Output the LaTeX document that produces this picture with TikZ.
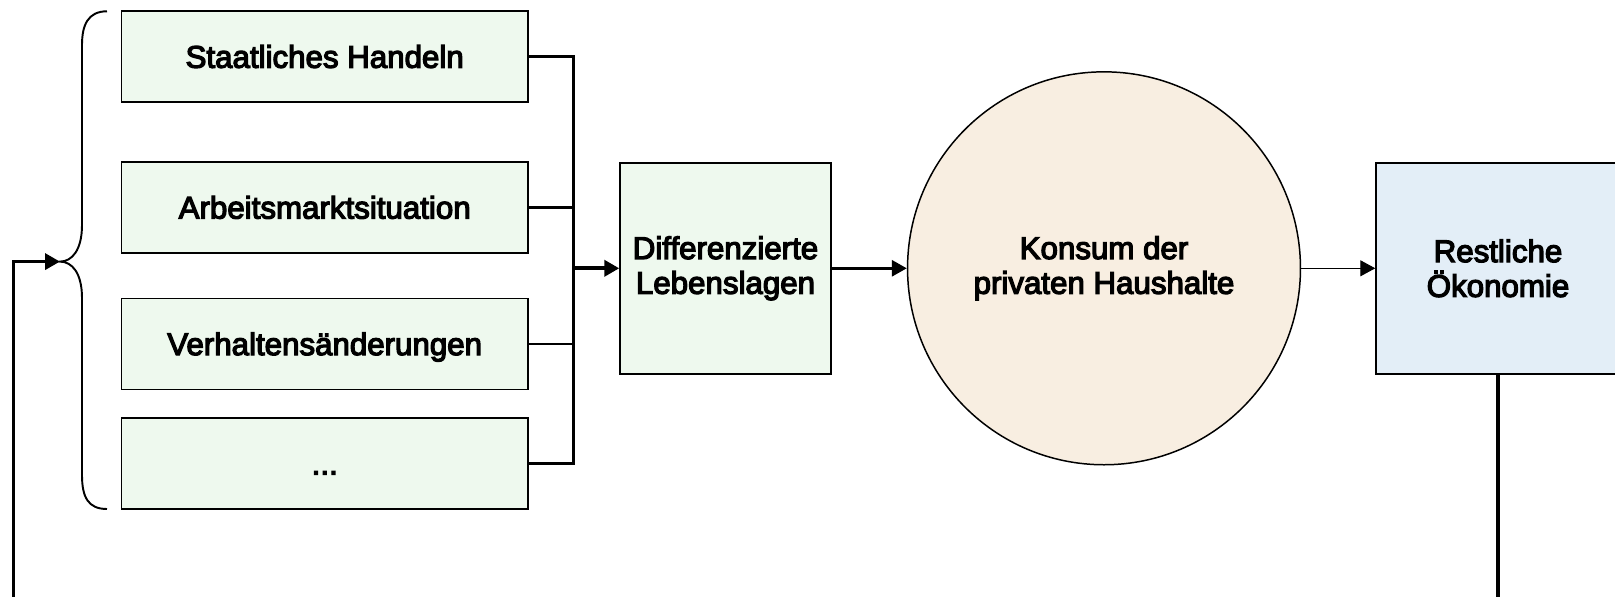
\documentclass[tikz,border=0pt]{standalone}
\usepackage{fontspec}
\setmainfont{Liberation Sans}
\newfontfamily\schrift{Liberation Sans}[FakeBold=4]
\usetikzlibrary{arrows.meta}
\definecolor{gruen}{HTML}{EEF9EE}
\definecolor{sand}{HTML}{F8EEE1}
\definecolor{blau}{HTML}{E3EEF7}
\begin{document}
\begin{tikzpicture}[x=0.02cm, y=-0.02cm, line join=miter,
	font=\schrift\fontsize{17.8}{19.8}\selectfont,
	>={Triangle[length=0.3cm, width=0.32cm]},
	faktor/.style={draw, line width=0.85pt, fill=gruen, minimum width=8.13cm, minimum height=1.82cm, inner sep=0pt, text height=12.6pt, text depth=0pt},
	quadrat/.style={draw, line width=0.85pt, minimum width=4.22cm, minimum height=4.22cm, inner sep=0pt, align=center},
	verbindung/.style={line width=1.4pt}]
	\useasboundingbox (0,0) rectangle (1615,597);
	\path
	(324.7,56.7) coordinate (F1)
	(324.7,207.5) coordinate (F2)
	(324.7,344) coordinate (F3)
	(324.7,463.5) coordinate (F4)
	(573.5,268.3) coordinate (bus)
	(725.5,268.3) coordinate (L)
	(1104,268.3) coordinate (K)
	(1498,268.3) coordinate (R)
	(60,261.6) coordinate (spitze)
	(13.4,261.6) coordinate (links)
	(13.4,615) coordinate (unten)
	;
	\node[faktor] (staat) at (F1) {Staatliches Handeln};
	\node[faktor] (arbeit) at (F2) {Arbeitsmarktsituation};
	\node[faktor] (verhalten) at (F3) {Verhaltensänderungen};
	\node[faktor] (weitere) at (F4) {...};
	\node[quadrat, fill=gruen] (lagen) at (L) {Differenzierte\\Lebenslagen};
	\node[draw, circle, line width=0.85pt, fill=sand, minimum size=7.86cm, inner sep=0pt, align=center] (konsum) at (K) {Konsum der\\privaten Haushalte};
	\node[quadrat, fill=blau, minimum width=4.88cm] (rest) at (R) {Restliche\\Ökonomie};
	
	\draw[verbindung] (staat.east) -| (bus);
	\draw[verbindung] (weitere.east) -| (bus);
	\draw[verbindung] (arbeit.east) -- (arbeit.east -| bus);
	\draw[verbindung] (verhalten.east) -- (verhalten.east -| bus);
	\draw[->, line width=2.3pt] (bus) -- (lagen);
	\draw[->, line width=1.7pt] (lagen) -- (konsum);
	\draw[->, line width=0.6pt] (konsum) -- (rest);
	\draw[->, line width=2pt] (rest.south) |- (unten) -- (links) -- (spitze);
	
	% Klammer
	\draw[line width=1.1pt] (107,11.3) .. controls (88,11.3) and (82,25) .. (82,45)
		-- (82,225) .. controls (82,250) and (72,261.6) .. (spitze)
		.. controls (72,261.6) and (82,273) .. (82,298)
		-- (82,475) .. controls (82,497) and (88,509) .. (107,509);
\end{tikzpicture}
\end{document}
